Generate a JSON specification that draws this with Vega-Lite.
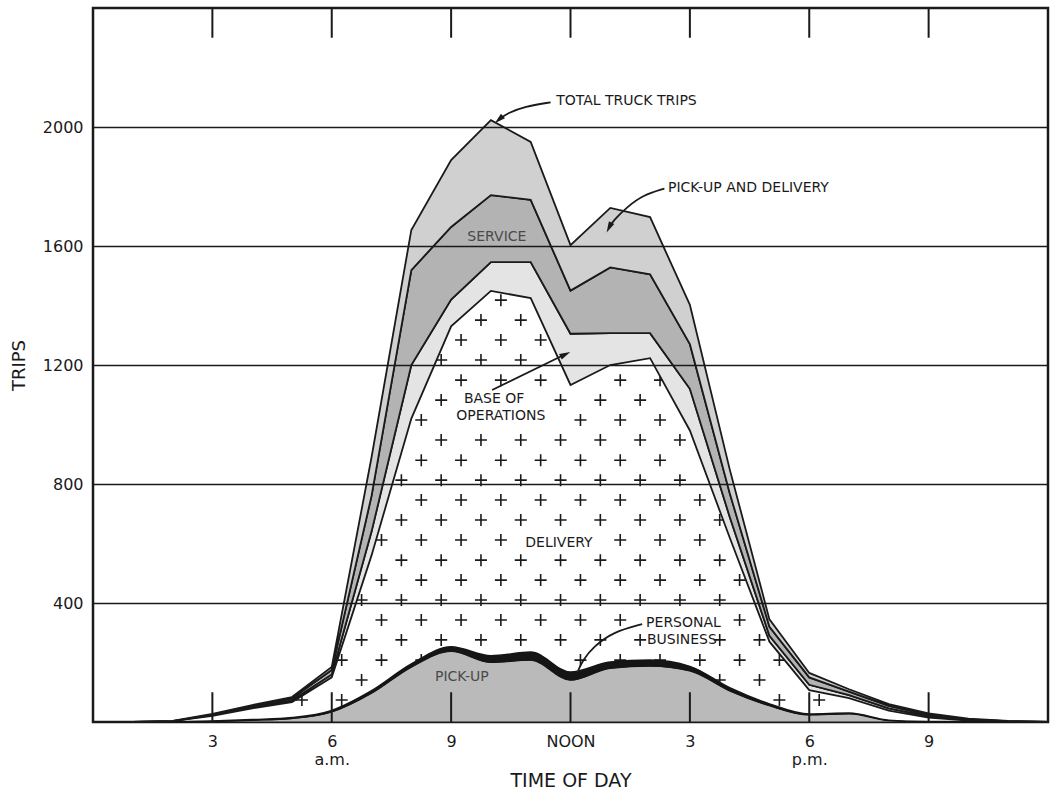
{
  "$schema": "https://vega.github.io/schema/vega-lite/v6.json",
  "width": 955,
  "height": 714,
  "autosize": "none",
  "padding": {"left": 93, "top": 8, "right": 8, "bottom": 67},
  "background": "white",
  "config": {
    "view": {"stroke": "#1a1a1a", "strokeWidth": 2.5},
    "font": "DejaVu Sans"
  },
  "datasets": {
    "trips": [
      {"hour": 0, "pickup": 0, "personal": 0, "delivery": 0, "base": 0, "service": 0, "pickupDelivery": 0},
      {"hour": 1, "pickup": 0, "personal": 0, "delivery": 0, "base": 0, "service": 0, "pickupDelivery": 0},
      {"hour": 2, "pickup": 0, "personal": 0, "delivery": 3, "base": 0, "service": 0, "pickupDelivery": 1},
      {"hour": 3, "pickup": 2, "personal": 1, "delivery": 18, "base": 2, "service": 2, "pickupDelivery": 2},
      {"hour": 4, "pickup": 6, "personal": 2, "delivery": 38, "base": 4, "service": 4, "pickupDelivery": 3},
      {"hour": 5, "pickup": 12, "personal": 3, "delivery": 52, "base": 6, "service": 6, "pickupDelivery": 5},
      {"hour": 6, "pickup": 34, "personal": 5, "delivery": 111, "base": 10, "service": 15, "pickupDelivery": 10},
      {"hour": 7, "pickup": 97, "personal": 8, "delivery": 455, "base": 80, "service": 120, "pickupDelivery": 130},
      {"hour": 8, "pickup": 185, "personal": 10, "delivery": 825, "base": 180, "service": 319, "pickupDelivery": 135},
      {"hour": 9, "pickup": 238, "personal": 15, "delivery": 1077, "base": 90, "service": 244, "pickupDelivery": 225},
      {"hour": 10, "pickup": 201, "personal": 22, "delivery": 1226, "base": 97, "service": 225, "pickupDelivery": 252},
      {"hour": 11, "pickup": 208, "personal": 27, "delivery": 1190, "base": 121, "service": 209, "pickupDelivery": 195},
      {"hour": 12, "pickup": 141, "personal": 27, "delivery": 965, "base": 172, "service": 145, "pickupDelivery": 153},
      {"hour": 13, "pickup": 181, "personal": 21, "delivery": 998, "base": 107, "service": 221, "pickupDelivery": 200},
      {"hour": 14, "pickup": 188, "personal": 20, "delivery": 1015, "base": 84, "service": 198, "pickupDelivery": 192},
      {"hour": 15, "pickup": 172, "personal": 15, "delivery": 793, "base": 140, "service": 150, "pickupDelivery": 132},
      {"hour": 16, "pickup": 105, "personal": 10, "delivery": 505, "base": 70, "service": 80, "pickupDelivery": 80},
      {"hour": 17, "pickup": 55, "personal": 6, "delivery": 209, "base": 20, "service": 30, "pickupDelivery": 25},
      {"hour": 18, "pickup": 24, "personal": 3, "delivery": 80, "base": 18, "service": 25, "pickupDelivery": 15},
      {"hour": 19, "pickup": 28, "personal": 2, "delivery": 50, "base": 10, "service": 12, "pickupDelivery": 8},
      {"hour": 20, "pickup": 5, "personal": 1, "delivery": 32, "base": 8, "service": 8, "pickupDelivery": 6},
      {"hour": 21, "pickup": 0, "personal": 1, "delivery": 14, "base": 5, "service": 5, "pickupDelivery": 4},
      {"hour": 22, "pickup": 0, "personal": 0, "delivery": 5, "base": 2, "service": 2, "pickupDelivery": 2},
      {"hour": 23, "pickup": 0, "personal": 0, "delivery": 2, "base": 1, "service": 0, "pickupDelivery": 1},
      {"hour": 24, "pickup": 0, "personal": 0, "delivery": 0, "base": 0, "service": 0, "pickupDelivery": 0}
    ],
    "crosses": [
      {"hour": 5.25, "trips": 74}, {"hour": 6.25, "trips": 74}, {"hour": 17.25, "trips": 74}, {"hour": 18.25, "trips": 74},
      {"hour": 6.75, "trips": 141}, {"hour": 15.75, "trips": 141}, {"hour": 16.75, "trips": 141},
      {"hour": 6.25, "trips": 208}, {"hour": 7.25, "trips": 208}, {"hour": 8.25, "trips": 208}, {"hour": 12.25, "trips": 208}, {"hour": 13.25, "trips": 208}, {"hour": 14.25, "trips": 208}, {"hour": 15.25, "trips": 208}, {"hour": 16.25, "trips": 208}, {"hour": 17.25, "trips": 208},
      {"hour": 6.75, "trips": 276}, {"hour": 7.75, "trips": 276}, {"hour": 8.75, "trips": 276}, {"hour": 9.75, "trips": 276}, {"hour": 10.75, "trips": 276}, {"hour": 11.75, "trips": 276}, {"hour": 12.75, "trips": 276}, {"hour": 13.75, "trips": 276}, {"hour": 15.75, "trips": 276}, {"hour": 16.75, "trips": 276},
      {"hour": 7.25, "trips": 343}, {"hour": 8.25, "trips": 343}, {"hour": 9.25, "trips": 343}, {"hour": 10.25, "trips": 343}, {"hour": 11.25, "trips": 343}, {"hour": 12.25, "trips": 343}, {"hour": 13.25, "trips": 343}, {"hour": 16.25, "trips": 343},
      {"hour": 6.75, "trips": 410}, {"hour": 7.75, "trips": 410}, {"hour": 8.75, "trips": 410}, {"hour": 9.75, "trips": 410}, {"hour": 10.75, "trips": 410}, {"hour": 11.75, "trips": 410}, {"hour": 12.75, "trips": 410}, {"hour": 13.75, "trips": 410}, {"hour": 14.75, "trips": 410}, {"hour": 15.75, "trips": 410},
      {"hour": 7.25, "trips": 477}, {"hour": 8.25, "trips": 477}, {"hour": 9.25, "trips": 477}, {"hour": 10.25, "trips": 477}, {"hour": 11.25, "trips": 477}, {"hour": 12.25, "trips": 477}, {"hour": 13.25, "trips": 477}, {"hour": 14.25, "trips": 477}, {"hour": 15.25, "trips": 477}, {"hour": 16.25, "trips": 477},
      {"hour": 7.75, "trips": 544}, {"hour": 8.75, "trips": 544}, {"hour": 9.75, "trips": 544}, {"hour": 10.75, "trips": 544}, {"hour": 11.75, "trips": 544}, {"hour": 12.75, "trips": 544}, {"hour": 13.75, "trips": 544}, {"hour": 14.75, "trips": 544}, {"hour": 15.75, "trips": 544},
      {"hour": 7.25, "trips": 612}, {"hour": 8.25, "trips": 612}, {"hour": 9.25, "trips": 612}, {"hour": 10.25, "trips": 612}, {"hour": 13.25, "trips": 612}, {"hour": 14.25, "trips": 612}, {"hour": 15.25, "trips": 612},
      {"hour": 7.75, "trips": 679}, {"hour": 8.75, "trips": 679}, {"hour": 9.75, "trips": 679}, {"hour": 10.75, "trips": 679}, {"hour": 11.75, "trips": 679}, {"hour": 12.75, "trips": 679}, {"hour": 13.75, "trips": 679}, {"hour": 14.75, "trips": 679}, {"hour": 15.75, "trips": 679},
      {"hour": 8.25, "trips": 746}, {"hour": 9.25, "trips": 746}, {"hour": 10.25, "trips": 746}, {"hour": 11.25, "trips": 746}, {"hour": 12.25, "trips": 746}, {"hour": 13.25, "trips": 746}, {"hour": 14.25, "trips": 746}, {"hour": 15.25, "trips": 746},
      {"hour": 7.75, "trips": 813}, {"hour": 8.75, "trips": 813}, {"hour": 9.75, "trips": 813}, {"hour": 10.75, "trips": 813}, {"hour": 11.75, "trips": 813}, {"hour": 12.75, "trips": 813}, {"hour": 13.75, "trips": 813}, {"hour": 14.75, "trips": 813},
      {"hour": 8.25, "trips": 880}, {"hour": 9.25, "trips": 880}, {"hour": 10.25, "trips": 880}, {"hour": 11.25, "trips": 880}, {"hour": 12.25, "trips": 880}, {"hour": 13.25, "trips": 880}, {"hour": 14.25, "trips": 880},
      {"hour": 8.75, "trips": 948}, {"hour": 9.75, "trips": 948}, {"hour": 10.75, "trips": 948}, {"hour": 11.75, "trips": 948}, {"hour": 12.75, "trips": 948}, {"hour": 13.75, "trips": 948}, {"hour": 14.75, "trips": 948},
      {"hour": 8.25, "trips": 1015}, {"hour": 12.25, "trips": 1015}, {"hour": 13.25, "trips": 1015}, {"hour": 14.25, "trips": 1015},
      {"hour": 8.75, "trips": 1082}, {"hour": 11.75, "trips": 1082}, {"hour": 12.75, "trips": 1082}, {"hour": 13.75, "trips": 1082},
      {"hour": 9.25, "trips": 1149}, {"hour": 10.25, "trips": 1149}, {"hour": 11.25, "trips": 1149}, {"hour": 13.25, "trips": 1149}, {"hour": 14.25, "trips": 1149},
      {"hour": 8.75, "trips": 1217}, {"hour": 9.75, "trips": 1217}, {"hour": 10.75, "trips": 1217},
      {"hour": 9.25, "trips": 1284}, {"hour": 10.25, "trips": 1284}, {"hour": 11.25, "trips": 1284},
      {"hour": 9.75, "trips": 1351}, {"hour": 10.75, "trips": 1351},
      {"hour": 10.25, "trips": 1418}
    ],
    "ticks": [
      {"hour": 3}, {"hour": 6}, {"hour": 9}, {"hour": 12}, {"hour": 15}, {"hour": 18}, {"hour": 21}
    ],
    "arrows": [
      {"arrow": "total", "seq": 1, "hour": 11.5, "trips": 2083},
      {"arrow": "total", "seq": 2, "hour": 10.85, "trips": 2069},
      {"arrow": "total", "seq": 3, "hour": 10.42, "trips": 2047},
      {"arrow": "total", "seq": 4, "hour": 10.2, "trips": 2025},
      {"arrow": "pickupDelivery", "seq": 1, "hour": 14.36, "trips": 1793},
      {"arrow": "pickupDelivery", "seq": 2, "hour": 13.82, "trips": 1771},
      {"arrow": "pickupDelivery", "seq": 3, "hour": 13.42, "trips": 1731},
      {"arrow": "pickupDelivery", "seq": 4, "hour": 13.07, "trips": 1685},
      {"arrow": "pickupDelivery", "seq": 5, "hour": 12.97, "trips": 1662},
      {"arrow": "base", "seq": 1, "hour": 10.03, "trips": 1116},
      {"arrow": "base", "seq": 2, "hour": 11.87, "trips": 1236},
      {"arrow": "personal", "seq": 1, "hour": 13.8, "trips": 329},
      {"arrow": "personal", "seq": 2, "hour": 13.07, "trips": 303},
      {"arrow": "personal", "seq": 3, "hour": 12.57, "trips": 252},
      {"arrow": "personal", "seq": 4, "hour": 12.31, "trips": 208},
      {"arrow": "personal", "seq": 5, "hour": 12.19, "trips": 172}
    ],
    "arrowHeads": [
      {"arrow": "total", "hour": 10.2, "trips": 2025},
      {"arrow": "pickupDelivery", "hour": 12.97, "trips": 1662},
      {"arrow": "base", "hour": 11.87, "trips": 1236}
    ],
    "leftLabels": [
      {"note": "TOTAL TRUCK TRIPS", "hour": 11.64, "trips": 2087},
      {"note": "PICK-UP AND DELIVERY", "hour": 14.45, "trips": 1795},
      {"note": "PERSONAL", "hour": 13.9, "trips": 333},
      {"note": "BUSINESS", "hour": 13.92, "trips": 276}
    ],
    "labels": [
      {"note": "BASE OF", "hour": 10.08, "trips": 1086},
      {"note": "OPERATIONS", "hour": 10.25, "trips": 1029},
      {"note": "DELIVERY", "hour": 11.71, "trips": 602}
    ],
    "bandLabels": [
      {"note": "SERVICE", "hour": 10.15, "trips": 1630},
      {"note": "PICK-UP", "hour": 9.27, "trips": 151}
    ]
  },
  "layer": [
    {
      "data": {"name": "crosses"},
      "mark": {"type": "point", "shape": "M-1,0H1M0,-1V1", "size": 144, "filled": false, "stroke": "#1a1a1a", "strokeWidth": 1.6, "opacity": 1},
      "encoding": {
        "x": {
          "field": "hour", "type": "quantitative",
          "scale": {"domain": [0, 24], "nice": false, "zero": false},
          "axis": {
            "values": [3, 6, 9, 12, 15, 18, 21],
            "grid": false, "ticks": false, "domain": false,
            "labelFontSize": 16, "labelPadding": 11, "labelLineHeight": 18,
            "labelColor": "#1a1a1a", "labelOverlap": false, "labelFlush": false, "labelBound": false,
            "labelExpr": "datum.value == 12 ? 'NOON' : datum.value == 6 ? ['6', 'a.m.'] : datum.value == 18 ? ['6', 'p.m.'] : datum.value > 12 ? '' + (datum.value - 12) : '' + datum.value",
            "title": "TIME OF DAY", "titleFontSize": 19, "titleFontWeight": "normal",
            "titleColor": "#1a1a1a", "titlePadding": 4
          }
        },
        "y": {
          "field": "trips", "type": "quantitative",
          "scale": {"domain": [0, 2400], "nice": false},
          "axis": {
            "values": [400, 800, 1200, 1600, 2000],
            "grid": true, "gridColor": "#1a1a1a", "gridWidth": 1.6, "gridOpacity": 1,
            "ticks": false, "domain": false, "format": "d",
            "labelFontSize": 16, "labelPadding": 10, "labelColor": "#1a1a1a",
            "title": "TRIPS", "titleFontSize": 18, "titleFontWeight": "normal",
            "titleColor": "#1a1a1a", "titlePadding": 14,
            "zindex": 1
          }
        }
      }
    },
    {
      "data": {"name": "trips"},
      "transform": [
        {"fold": ["pickup", "personal", "delivery", "base", "service", "pickupDelivery"], "as": ["category", "trips"]},
        {"stack": "trips", "groupby": ["hour"], "as": ["lo", "hi"]}
      ],
      "encoding": {
        "x": {"field": "hour", "type": "quantitative"},
        "y": {"field": "hi", "type": "quantitative"},
        "y2": {"field": "lo"}
      },
      "layer": [
        {
          "transform": [{"filter": {"field": "category", "equal": "pickup"}}],
          "mark": {"type": "area", "interpolate": "monotone", "fill": "#bababa", "stroke": "#1a1a1a", "strokeWidth": 1}
        },
        {
          "transform": [{"filter": {"field": "category", "equal": "personal"}}],
          "mark": {"type": "area", "interpolate": "monotone", "fill": "#151515", "stroke": "#151515", "strokeWidth": 1.5}
        },
        {
          "transform": [{"filter": {"field": "category", "equal": "base"}}],
          "mark": {"type": "area", "fill": "#e4e4e4", "stroke": "#1a1a1a", "strokeWidth": 1.8}
        },
        {
          "transform": [{"filter": {"field": "category", "equal": "service"}}],
          "mark": {"type": "area", "fill": "#b3b3b3", "stroke": "#1a1a1a", "strokeWidth": 1.8}
        },
        {
          "transform": [{"filter": {"field": "category", "equal": "pickupDelivery"}}],
          "mark": {"type": "area", "fill": "#d0d0d0", "stroke": "#1a1a1a", "strokeWidth": 1.8}
        }
      ]
    },
    {
      "data": {"name": "ticks"},
      "encoding": {"x": {"field": "hour", "type": "quantitative"}},
      "layer": [
        {
          "mark": {"type": "rule", "stroke": "#1a1a1a", "strokeWidth": 2},
          "encoding": {"y": {"datum": 0, "type": "quantitative"}, "y2": {"datum": 100}}
        },
        {
          "mark": {"type": "rule", "stroke": "#1a1a1a", "strokeWidth": 2},
          "encoding": {"y": {"datum": 2300, "type": "quantitative"}, "y2": {"datum": 2400}}
        }
      ]
    },
    {
      "data": {"name": "arrows"},
      "mark": {"type": "line", "interpolate": "basis", "stroke": "#1a1a1a", "strokeWidth": 1.8},
      "encoding": {
        "x": {"field": "hour", "type": "quantitative"},
        "y": {"field": "trips", "type": "quantitative"},
        "detail": {"field": "arrow"},
        "order": {"field": "seq"}
      }
    },
    {
      "data": {"name": "arrowHeads"},
      "transform": [{"filter": {"field": "arrow", "equal": "total"}}],
      "mark": {"type": "point", "shape": "M0,-1L0.55,1L-0.55,1Z", "size": 120, "filled": true, "fill": "#1a1a1a", "strokeWidth": 0, "opacity": 1, "angle": 228},
      "encoding": {"x": {"field": "hour", "type": "quantitative"}, "y": {"field": "trips", "type": "quantitative"}}
    },
    {
      "data": {"name": "arrowHeads"},
      "transform": [{"filter": {"field": "arrow", "equal": "pickupDelivery"}}],
      "mark": {"type": "point", "shape": "M0,-1L0.55,1L-0.55,1Z", "size": 120, "filled": true, "fill": "#1a1a1a", "strokeWidth": 0, "opacity": 1, "angle": 207},
      "encoding": {"x": {"field": "hour", "type": "quantitative"}, "y": {"field": "trips", "type": "quantitative"}}
    },
    {
      "data": {"name": "arrowHeads"},
      "transform": [{"filter": {"field": "arrow", "equal": "base"}}],
      "mark": {"type": "point", "shape": "M0,-1L0.55,1L-0.55,1Z", "size": 120, "filled": true, "fill": "#1a1a1a", "strokeWidth": 0, "opacity": 1, "angle": 64},
      "encoding": {"x": {"field": "hour", "type": "quantitative"}, "y": {"field": "trips", "type": "quantitative"}}
    },
    {
      "data": {"name": "leftLabels"},
      "mark": {"type": "text", "fontSize": 14, "fill": "#1a1a1a", "align": "left", "baseline": "middle"},
      "encoding": {
        "x": {"field": "hour", "type": "quantitative"},
        "y": {"field": "trips", "type": "quantitative"},
        "text": {"field": "note"}
      }
    },
    {
      "data": {"name": "labels"},
      "mark": {"type": "text", "fontSize": 14, "fill": "#1a1a1a", "align": "center", "baseline": "middle"},
      "encoding": {
        "x": {"field": "hour", "type": "quantitative"},
        "y": {"field": "trips", "type": "quantitative"},
        "text": {"field": "note"}
      }
    },
    {
      "data": {"name": "bandLabels"},
      "mark": {"type": "text", "fontSize": 14, "fill": "#4a4a4a", "align": "center", "baseline": "middle"},
      "encoding": {
        "x": {"field": "hour", "type": "quantitative"},
        "y": {"field": "trips", "type": "quantitative"},
        "text": {"field": "note"}
      }
    }
  ]
}
